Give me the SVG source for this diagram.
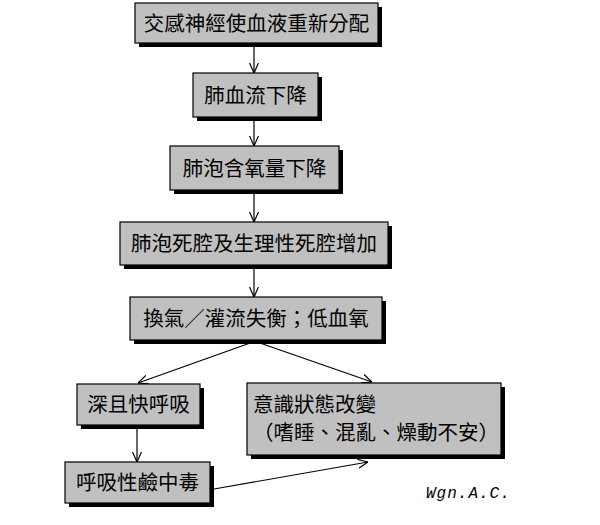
<svg xmlns="http://www.w3.org/2000/svg" width="600" height="525" viewBox="0 0 600 525">
<style>
.box{fill:#c0c0c0;stroke:#000;stroke-width:1.2}
.sh{fill:#000}
.t{font-family:"Noto Sans CJK TC","Noto Sans CJK SC",sans-serif;font-size:20.5px;fill:#000}
.c{text-anchor:middle}
.ln{stroke:#000;stroke-width:1.2;fill:none;marker-end:url(#ah)}
</style>
<defs>
<marker id="ah" viewBox="0 0 10 10" refX="10" refY="5" markerWidth="10" markerHeight="10" markerUnits="userSpaceOnUse" orient="auto">
<path d="M0,0.5 L10,5 L0,9.5" fill="none" stroke="#000" stroke-width="1.2"/>
</marker>
</defs>
<rect width="600" height="525" fill="#fff"/>
<g id="connectors">
<line class="ln" x1="254" y1="43" x2="254" y2="73"/>
<line class="ln" x1="254" y1="117" x2="254" y2="146"/>
<line class="ln" x1="254" y1="190" x2="254" y2="222"/>
<line class="ln" x1="254" y1="265" x2="254" y2="297"/>
<line class="ln" x1="253" y1="342" x2="138" y2="383"/>
<line class="ln" x1="257" y1="342" x2="372" y2="382"/>
<line class="ln" x1="137" y1="425" x2="137" y2="462"/>
<line class="ln" x1="214" y1="489" x2="368" y2="462"/>
</g>
<g id="n1">
<rect class="sh" x="139" y="7" width="243" height="40"/>
<rect class="box" x="135" y="3" width="243" height="40"/>
<text class="t c" x="256.5" y="30.5">交感神經使血液重新分配</text>
</g>
<g id="n2">
<rect class="sh" x="197" y="77" width="125" height="44"/>
<rect class="box" x="193" y="73" width="125" height="44"/>
<text class="t c" x="255.5" y="102.5">肺血流下降</text>
</g>
<g id="n3">
<rect class="sh" x="174" y="150" width="169" height="44"/>
<rect class="box" x="170" y="146" width="169" height="44"/>
<text class="t c" x="254.5" y="175.5">肺泡含氧量下降</text>
</g>
<g id="n4">
<rect class="sh" x="124" y="226" width="268" height="43"/>
<rect class="box" x="120" y="222" width="268" height="43"/>
<text class="t c" x="254" y="251">肺泡死腔及生理性死腔增加</text>
</g>
<g id="n5">
<rect class="sh" x="134" y="301" width="252" height="43"/>
<rect class="box" x="130" y="297" width="252" height="43"/>
<text class="t c" x="256" y="326">換氣／灌流失衡；低血氧</text>
</g>
<g id="n6">
<rect class="sh" x="81" y="388" width="123" height="41"/>
<rect class="box" x="77" y="384" width="123" height="41"/>
<text class="t c" x="138.5" y="412">深且快呼吸</text>
</g>
<g id="n7">
<rect class="sh" x="251" y="387" width="254" height="72"/>
<rect class="box" x="247" y="383" width="254" height="72"/>
<text class="t" x="253" y="412">意識狀態改變</text>
<text class="t" x="253" y="440">（嗜睡、混亂、燥動不安）</text>
</g>
<g id="n8">
<rect class="sh" x="69" y="466" width="145" height="41"/>
<rect class="box" x="65" y="462" width="145" height="41"/>
<text class="t c" x="137.5" y="490">呼吸性鹼中毒</text>
</g>
<text x="426" y="498" style="font-family:'Liberation Mono',monospace;font-style:italic;font-size:16px;letter-spacing:1px" fill="#000">Wgn.A.C.</text>
</svg>
